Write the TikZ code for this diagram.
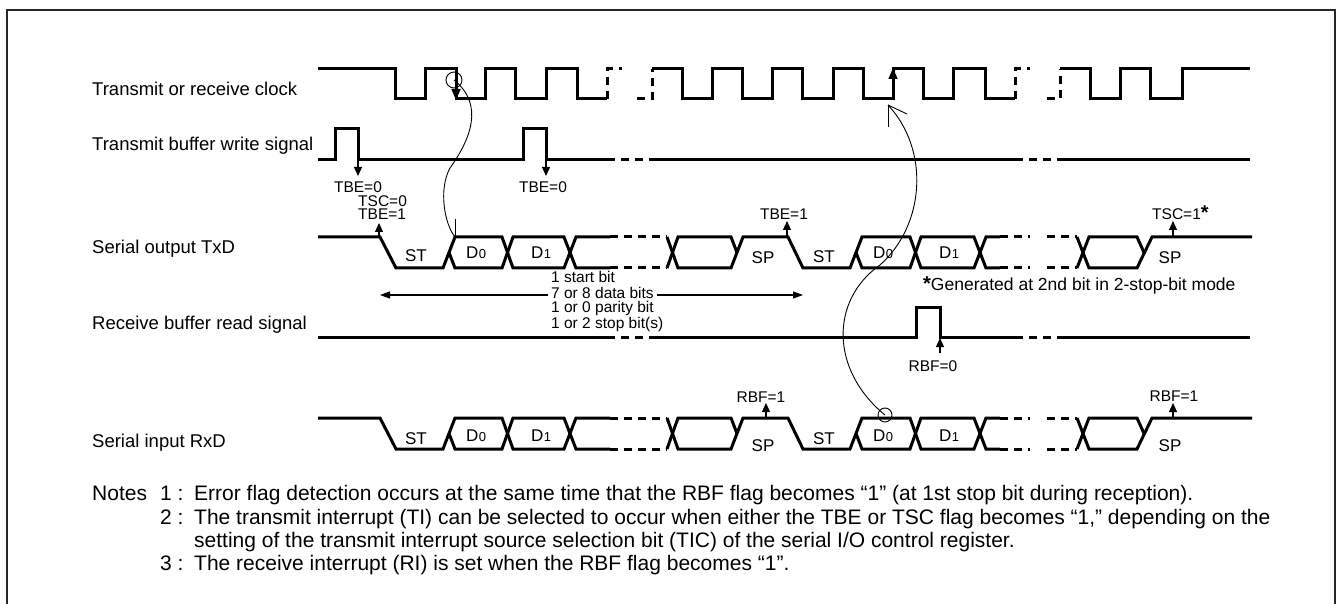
\documentclass[tikz,border=0pt]{standalone}
\usepackage{fontspec}
\setmainfont{Liberation Sans}
\usetikzlibrary{arrows.meta}
\newcommand\bitwave[3]{%
 \draw[sig] (318,#1) -- (380,#1) -- (396,#3) -- (443,#3) -- (455,#1) -- (502,#1) -- (513,#3) -- (564,#3) -- (576,#1) -- (610,#1);
 \draw[sig] (449,#2) -- (455,#3) -- (502,#3) -- (513,#1) -- (564,#1) -- (576,#3) -- (610,#3);
 \draw[sigdash] (610,#1) -- (667,#1) (610,#3) -- (667,#3);
 \draw[sig] (667,#1) -- (678,#3) -- (731,#3) -- (743,#1) -- (788,#1) -- (803,#3) -- (850,#3) -- (862,#1) -- (910,#1) -- (921,#3) -- (974,#3) -- (986,#1) -- (1000,#1);
 \draw[sig] (667,#3) -- (678,#1) -- (731,#1) -- (737,#2);
 \draw[sig] (856,#2) -- (862,#3) -- (910,#3) -- (921,#1) -- (974,#1) -- (986,#3) -- (1000,#3);
 \draw[sigdash] (1000,#1) -- (1030,#1) (1047,#1) -- (1077,#1) (1000,#3) -- (1030,#3) (1047,#3) -- (1077,#3);
 \draw[sig] (1077,#1) -- (1089,#3) -- (1137,#3) -- (1152,#1) -- (1252,#1);
 \draw[sig] (1077,#3) -- (1089,#1) -- (1137,#1) -- (1144,#2);
}
\newcommand\dsub[1]{D\kern0.5pt{\fontsize{13}{13}\selectfont #1}}
\begin{document}
\begin{tikzpicture}[x=1pt,y=-1pt,
  sig/.style={line width=3pt, line join=miter, line cap=butt},
  sigdash/.style={sig, dash pattern=on 8pt off 6pt},
  flag/.style={line width=1.2pt, -{Triangle[length=9pt,width=8pt]}},
  thinarrow/.style={line width=1.1pt, -{Triangle[length=10pt,width=7pt]}},
  edgearrow/.style={line width=1.5pt, -{Triangle[length=11pt,width=9pt]}},
  thin/.style={line width=0.9pt},
  lbl/.style={anchor=base west, font=\fontsize{18.5}{22}\selectfont, inner sep=0},
  small/.style={font=\fontsize{15.5}{17}\selectfont, inner sep=0},
  bits/.style={anchor=west, font=\fontsize{15.5}{17}\selectfont, inner sep=0},
  cell/.style={font=\fontsize{17}{19}\selectfont, inner sep=0},
  note/.style={anchor=base west, font=\fontsize{21}{25}\selectfont, inner sep=0}
]
\useasboundingbox (0,0) rectangle (1339,604);
% frame
\draw[line width=2.5pt, black!85] (7,640) -- (7,10) -- (1335,10) -- (1335,640);

% left labels
\node[lbl] (lclk) at (92,96) {Transmit or receive clock};
\node[lbl] (lwr) at (92,151) {Transmit buffer write signal};
\node[lbl] (ltx) at (92,254) {Serial output TxD};
\node[lbl] (lrd) at (92,329) {Receive buffer read signal};
\node[lbl] (lrx) at (92,447) {Serial input RxD};

% clock
\draw[sig] (318,69) -- (395,69) -- (395,99) -- (425,99) -- (425,69) -- (456,69) -- (456,99) -- (485,99) -- (485,69) -- (515,69) -- (515,99) -- (546,99) -- (546,69) -- (577,69) -- (577,99) -- (607,99);
\draw[sigdash] (607,99) -- (607,69) -- (622,69);
\draw[sigdash] (637,99) -- (652,99) -- (652,69);
\draw[sig] (652,69) -- (682,69) -- (682,99) -- (712,99) -- (712,69) -- (742,69) -- (742,99) -- (772,99) -- (772,69) -- (802,69) -- (802,99) -- (833,99) -- (833,69) -- (863,69) -- (863,99) -- (893,99) -- (893,69) -- (923,69) -- (923,99) -- (953,99) -- (953,69) -- (985,69) -- (985,99) -- (1015,99);
\draw[sigdash] (1015,99) -- (1015,69) -- (1030,69);
\draw[sigdash] (1047,99) -- (1060,99) -- (1060,69);
\draw[sig] (1060,69) -- (1090,69) -- (1090,99) -- (1120,99) -- (1120,69) -- (1150,69) -- (1150,99) -- (1182,99) -- (1182,69) -- (1250,69);
\coordinate (fe1) at (456,80);
\coordinate (fe1t) at (456,100);
\draw[edgearrow] (fe1) -- (fe1t);
\coordinate (re1) at (893,90);
\coordinate (re1t) at (893,68);
\draw[edgearrow] (re1) -- (re1t);

% transmit buffer write
\draw[sig] (318,160) -- (335,160) -- (335,129) -- (358,129) -- (358,160) -- (523,160) -- (523,129) -- (546,129) -- (546,160) -- (607,160);
\draw[sigdash] (607,160) -- (650,160);
\draw[sig] (650,160) -- (1015,160);
\draw[sigdash] (1015,160) -- (1060,160);
\draw[sig] (1060,160) -- (1250,160);

% receive buffer read
\draw[sig] (318,337) -- (607,337);
\draw[sigdash] (607,337) -- (650,337);
\draw[sig] (650,337) -- (916,337) -- (916,307) -- (940,307) -- (940,337) -- (1015,337);
\draw[sigdash] (1015,337) -- (1060,337);
\draw[sig] (1060,337) -- (1250,337);

% TxD and RxD
\bitwave{237}{252.5}{268}
\bitwave{418}{433.5}{449}

% cell labels TxD
\node[cell] (t1) at (416,256) {ST};
\node[cell] (t2) at (476,252.5) {\dsub{0}};
\node[cell] (t3) at (541,252.5) {\dsub{1}};
\node[cell] (t4) at (763,257.5) {SP};
\node[cell] (t5) at (824,257) {ST};
\node[cell] (t6) at (883,252.5) {\dsub{0}};
\node[cell] (t7) at (949,252.5) {\dsub{1}};
\node[cell] (t8) at (1170,258) {SP};
% cell labels RxD
\node[cell] (r1) at (416,439) {ST};
\node[cell] (r2) at (476,436) {\dsub{0}};
\node[cell] (r3) at (541,436) {\dsub{1}};
\node[cell] (r4) at (763,446) {SP};
\node[cell] (r5) at (824,439) {ST};
\node[cell] (r6) at (883,436) {\dsub{0}};
\node[cell] (r7) at (949,436) {\dsub{1}};
\node[cell] (r8) at (1170,446) {SP};

% flags
\node[small] (tbe0a) at (358,187) {TBE=0};
\node[small] (tbe0b) at (543,187) {TBE=0};
\node[small, anchor=west] (tsc0) at (358,201) {TSC=0};
\node[small, anchor=west] (tbe1a) at (358,214.5) {TBE=1};
\node[small] (tbe1b) at (784,214) {TBE=1};
\node[small, anchor=west] (tsc1) at (1152,213) {TSC=1{\fontsize{20}{20}\selectfont\bfseries *}};
\node[small] (rbf1a) at (761,397) {RBF=1};
\node[small] (rbf1b) at (1174,396) {RBF=1};
\node[small] (rbf0) at (933,366) {RBF=0};

\coordinate (a1s) at (358,161); \coordinate (a1e) at (358,176);
\coordinate (a2s) at (546,161); \coordinate (a2e) at (546,176);
\coordinate (a3s) at (379,236); \coordinate (a3e) at (379,223);
\coordinate (a4s) at (787,236); \coordinate (a4e) at (787,221);
\coordinate (a5s) at (1173,236); \coordinate (a5e) at (1173,221);
\coordinate (a6s) at (766,417); \coordinate (a6e) at (766,403);
\coordinate (a7s) at (1173,417); \coordinate (a7e) at (1173,403);
\coordinate (a8s) at (940,353); \coordinate (a8e) at (940,338);
\foreach \k in {1,...,8} { \draw[flag] (a\k s) -- (a\k e); }

% bits annotation
\node[bits] (b1) at (551,277) {1 start bit};
\node[bits] (b2) at (551,293) {7 or 8 data bits};
\node[bits] (b3) at (551,308.5) {1 or 0 parity bit};
\node[bits] (b4) at (551,324) {1 or 2 stop bit(s)};
\coordinate (bl) at (380,295);
\coordinate (br) at (803,295);
\draw[thinarrow] ([xshift=-3pt,yshift=-2pt]b2.west) -- (bl);
\draw[thinarrow] ([xshift=3pt,yshift=-2pt]b2.east) -- (br);

\node[anchor=west, inner sep=0, font=\fontsize{17.5}{20}\selectfont] (gen) at (923,285) {{\fontsize{20}{20}\selectfont\bfseries *}Generated at 2nd bit in 2-stop-bit mode};

% circles and curves
\node[circle, draw, thin, minimum size=16pt, inner sep=0] (cc) at (454,80) {};
\node[circle, draw, thin, minimum size=14pt, inner sep=0] (rc) at (885,415) {};
\coordinate (tip1) at (455,237);
\draw[thin] (cc.center) .. controls (485,105) and (470,140) .. (450,168) .. controls (438,190) and (445,225) .. (tip1);
\draw[thin] (tip1) -- ++(0,-18);
\coordinate (tip2) at (888,105);
\draw[thin] (rc.center) .. controls (830,370) and (830,300) .. (880,265) .. controls (925,225) and (930,150) .. (tip2);
\draw[thin] (tip2) -- ++(0,22);
\draw[thin] (tip2) -- ++(19,9);

% notes
\node[note] (n0) at (92,500) {Notes};
\node[note] (n1) at (160,500) {1 :};
\node[note] (n1t) at (194,500) {Error flag detection occurs at the same time that the RBF flag becomes “1” (at 1st stop bit during reception).};
\node[note] (n2) at (160,524) {2 :};
\node[note] (n2t) at (194,524) {The transmit interrupt (TI) can be selected to occur when either the TBE or TSC flag becomes “1,” depending on the};
\node[note] (n3t) at (194,547) {setting of the transmit interrupt source selection bit (TIC) of the serial I/O control register.};
\node[note] (n3) at (160,570) {3 :};
\node[note] (n4t) at (194,570) {The receive interrupt (RI) is set when the RBF flag becomes “1”.};
\end{tikzpicture}
\end{document}
